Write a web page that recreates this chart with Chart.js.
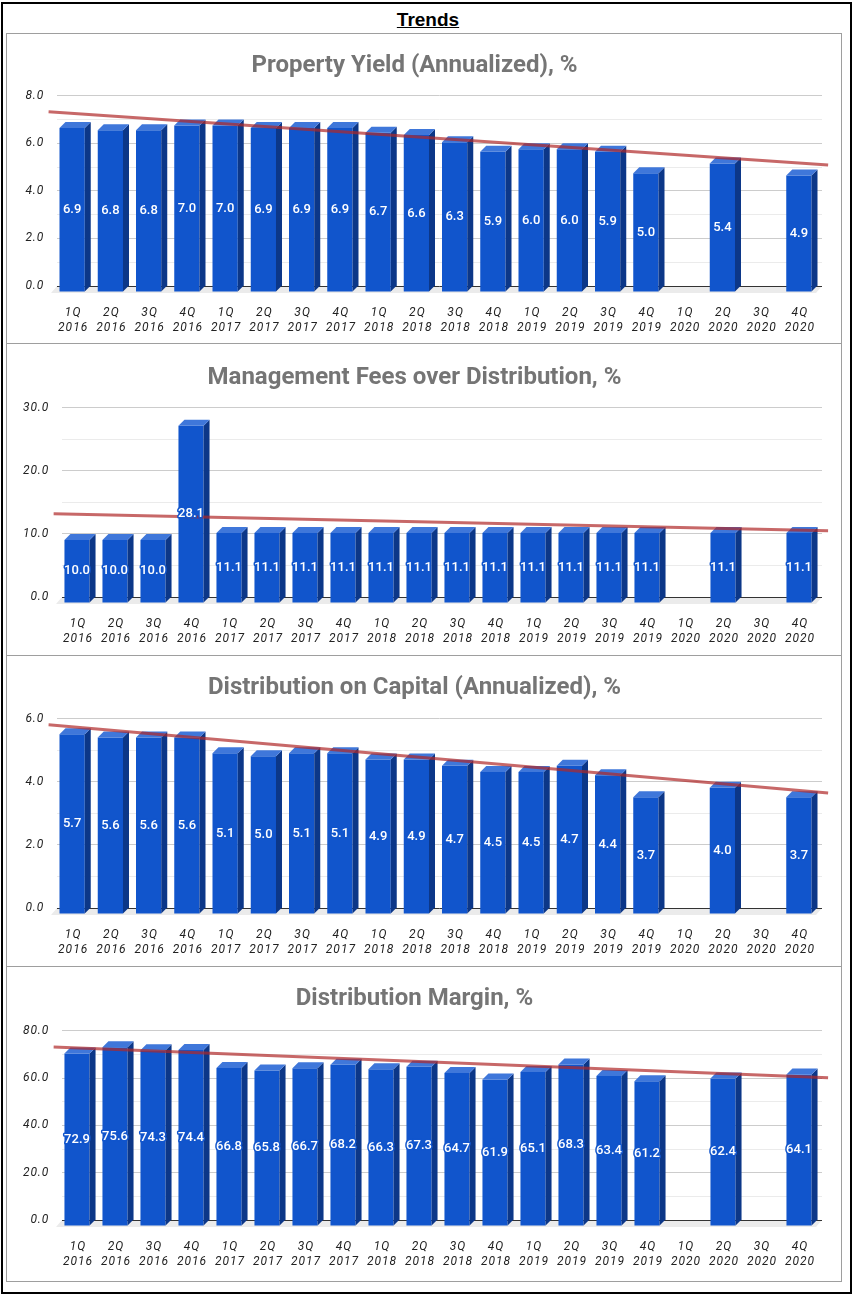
<!DOCTYPE html>
<html lang="en">
<head>
<meta charset="UTF-8">
<title>Trends</title>
<script src="https://cdn.jsdelivr.net/npm/chart.js"></script>
<style>
  body { margin: 0; background: #fff; font-family: Roboto, "Liberation Sans", sans-serif; }
  .frame { position: absolute; left: 1px; top: 2px; width: 851px; height: 1292px; border: 2px solid #000; box-sizing: border-box; }
  .heading { position: absolute; left: 0; width: 856px; top: 9px; text-align: center; font: bold 19px "Liberation Sans", Arial, sans-serif; }
  .heading span { text-decoration: underline; }
  .panels { position: absolute; left: 6px; top: 33px; width: 836px; height: 1249px; border: 1px solid #9e9e9e; box-sizing: border-box; }
  .panel { position: relative; width: 834px; }
  .panel + .panel { border-top: 1px solid #9e9e9e; }
</style>
</head>
<body>
<div class="frame"></div>
<div class="heading"><span>Trends</span></div>
<div class="panels">
  <div class="panel" style="height:309px"><canvas id="c1"></canvas></div>
  <div class="panel" style="height:311px"><canvas id="c2"></canvas></div>
  <div class="panel" style="height:310px"><canvas id="c3"></canvas></div>
  <div class="panel" style="height:314px"><canvas id="c4"></canvas></div>
</div>
<script>
// quarters on the x axis
const quarters = [
  ['1Q', '2016'], ['2Q', '2016'], ['3Q', '2016'], ['4Q', '2016'],
  ['1Q', '2017'], ['2Q', '2017'], ['3Q', '2017'], ['4Q', '2017'],
  ['1Q', '2018'], ['2Q', '2018'], ['3Q', '2018'], ['4Q', '2018'],
  ['1Q', '2019'], ['2Q', '2019'], ['3Q', '2019'], ['4Q', '2019'],
  ['1Q', '2020'], ['2Q', '2020'], ['3Q', '2020'], ['4Q', '2020']
];

// series (null = no value reported)
const propertyYield = [6.9, 6.8, 6.8, 7.0, 7.0, 6.9, 6.9, 6.9, 6.7, 6.6, 6.3, 5.9, 6.0, 6.0, 5.9, 5.0, null, 5.4, null, 4.9];
const mgmtFees = [10.0, 10.0, 10.0, 28.1, 11.1, 11.1, 11.1, 11.1, 11.1, 11.1, 11.1, 11.1, 11.1, 11.1, 11.1, 11.1, null, 11.1, null, 11.1];
const distribution = [5.7, 5.6, 5.6, 5.6, 5.1, 5.0, 5.1, 5.1, 4.9, 4.9, 4.7, 4.5, 4.5, 4.7, 4.4, 3.7, null, 4.0, null, 3.7];
const distMargin = [72.9, 75.6, 74.3, 74.4, 66.8, 65.8, 66.7, 68.2, 66.3, 67.3, 64.7, 61.9, 65.1, 68.3, 63.4, 61.2, null, 62.4, null, 64.1];

// trend lines: value at left end and right end
const trendX = [-0.72, 19.66];
const yieldTrend = [7.33, 5.09];
const feesTrend = [13.2, 10.5];
const distTrend = [5.81, 3.65];
const marginTrend = [73.2, 60.2];

// y axes: [max, major step, minor step]
const yieldAxis = [8, 2, 1];
const feesAxis = [30, 10, 5];
const distAxis = [6, 2, 1];
const marginAxis = [80, 20, 10];

const BLUE = '#1155cc';
const DX = 6, DY = 6, SHIFT = 4;   // depth of the fake 3D, front face shift left

// fake 3D bars like the Google Sheets chart, plus trend line and value labels
const bar3d = {
  id: 'bar3d',
  beforeDatasetsDraw(chart) {
    const ctx = chart.ctx;
    const a = chart.chartArea;
    const y0 = chart.scales.y.getPixelForValue(0);
    ctx.save();
    ctx.fillStyle = '#ebebeb';
    ctx.beginPath();
    ctx.moveTo(a.left, y0);
    ctx.lineTo(a.right, y0);
    ctx.lineTo(a.right - DX, y0 + DY + 1);
    ctx.lineTo(a.left - DX, y0 + DY + 1);
    ctx.closePath();
    ctx.fill();
    ctx.strokeStyle = '#333';
    ctx.lineWidth = 1;
    ctx.beginPath();
    ctx.moveTo(a.left, Math.round(y0) + 0.5);
    ctx.lineTo(a.right, Math.round(y0) + 0.5);
    ctx.stroke();
    ctx.restore();
  },
  beforeDatasetDraw(chart) {
    chart.ctx.save();
    chart.ctx.translate(-SHIFT, DY);
  },
  afterDatasetDraw(chart, args) {
    const ctx = chart.ctx;
    ctx.restore();
    const data = chart.data.datasets[args.index].data;
    args.meta.data.forEach((el, i) => {
      if (data[i] == null) return;
      const p = el.getProps(['x', 'y', 'base', 'width'], true);
      const l = p.x - p.width / 2 - SHIFT, r = p.x + p.width / 2 - SHIFT;
      const t = p.y + DY, b = p.base + DY;
      ctx.save();
      ctx.fillStyle = '#0c3788';
      ctx.beginPath();
      ctx.moveTo(r, t); ctx.lineTo(r + DX, t - DY); ctx.lineTo(r + DX, b - DY); ctx.lineTo(r, b);
      ctx.closePath(); ctx.fill();
      ctx.fillStyle = '#3f77da';
      ctx.beginPath();
      ctx.moveTo(l, t); ctx.lineTo(l + DX, t - DY); ctx.lineTo(r + DX, t - DY); ctx.lineTo(r, t);
      ctx.closePath(); ctx.fill();
      ctx.restore();
    });
  },
  afterDatasetsDraw(chart, args, opts) {
    // linear trend line through the category scale
    const ctx = chart.ctx;
    const xs = chart.scales.x, ys = chart.scales.y;
    ctx.save();
    ctx.strokeStyle = 'rgba(175, 40, 40, 0.7)';
    ctx.lineWidth = 3;
    ctx.beginPath();
    ctx.moveTo(xs.getPixelForValue(trendX[0]), ys.getPixelForValue(opts.trend[0]));
    ctx.lineTo(xs.getPixelForValue(trendX[1]), ys.getPixelForValue(opts.trend[1]));
    ctx.stroke();
    ctx.restore();
  },
  afterDraw(chart) {
    // value labels on the front face of each bar
    const ctx = chart.ctx;
    const meta = chart.getDatasetMeta(0);
    const data = chart.data.datasets[0].data;
    ctx.save();
    ctx.letterSpacing = '0px';
    ctx.font = '500 13px Roboto';
    ctx.textAlign = 'center';
    ctx.textBaseline = 'middle';
    ctx.lineJoin = 'round';
    meta.data.forEach((el, i) => {
      if (data[i] == null) return;
      const p = el.getProps(['x', 'y', 'base'], true);
      const cx = p.x - SHIFT, cy = (p.y + p.base) / 2 + DY;
      const txt = data[i].toFixed(1);
      ctx.strokeStyle = BLUE;
      ctx.lineWidth = 3;
      ctx.strokeText(txt, cx, cy);
      ctx.fillStyle = '#fff';
      ctx.fillText(txt, cx, cy);
    });
    ctx.restore();
  }
};

// tick labels are a little letter-spaced in the original
function spaced(scale, spacing) {
  if (scale._spaced) return;
  scale._spaced = true;
  const orig = scale.drawLabels;
  scale.drawLabels = function (area) {
    this.ctx.save();
    this.ctx.letterSpacing = spacing;
    orig.call(this, area);
    this.ctx.restore();
  };
}

function isMajor(v, step) {
  return Math.abs(v / step - Math.round(v / step)) < 1e-6;
}

function makeChart(id, title, values, trend, axis, lay) {
  const [max, major, minor] = axis;
  return new Chart(document.getElementById(id), {
    type: 'bar',
    data: {
      labels: quarters,
      datasets: [{
        data: values,
        backgroundColor: BLUE,
        borderWidth: 0,
        categoryPercentage: 1,
        barPercentage: 0.66,
        clip: false
      }]
    },
    options: {
      responsive: true,
      maintainAspectRatio: false,
      animation: false,
      events: [],
      layout: { padding: { left: 0, right: 19, top: 0, bottom: 0 } },
      plugins: {
        legend: { display: false },
        tooltip: { enabled: false },
        bar3d: { trend: trend },
        title: {
          display: true,
          text: title,
          color: '#757575',
          font: { family: 'Roboto', size: 24, weight: 'bold', lineHeight: 1.2 },
          padding: { top: lay.titleTop, bottom: lay.titleBottom }
        }
      },
      scales: {
        x: {
          grid: { display: false },
          border: { display: false },
          ticks: {
            autoSkip: false,
            maxRotation: 0,
            padding: 11,
            labelOffset: -3,
            color: '#222',
            font: { family: 'Roboto', size: 12, style: 'italic', lineHeight: 1.25 }
          },
          afterFit(s) { s.height = lay.xHeight; spaced(s, '1px'); }
        },
        y: {
          min: 0,
          max: max,
          border: { display: false },
          grid: {
            drawTicks: false,
            color: c => isMajor(c.tick.value, major) ? '#cccccc' : '#ebebeb'
          },
          ticks: {
            stepSize: minor,
            padding: 13,
            color: '#222',
            font: { family: 'Roboto', size: 12, style: 'italic' },
            callback: v => isMajor(v, major) ? v.toFixed(1) : ''
          },
          afterFit(s) { s.width = lay.yWidth; spaced(s, '0.8px'); }
        }
      }
    },
    plugins: [bar3d]
  });
}

makeChart('c1', 'Property Yield (Annualized), %', propertyYield, yieldTrend, yieldAxis,
  { titleTop: 18, titleBottom: 15, xHeight: 57, yWidth: 50 });
makeChart('c2', 'Management Fees over Distribution, %', mgmtFees, feesTrend, feesAxis,
  { titleTop: 20, titleBottom: 15, xHeight: 58, yWidth: 55 });
makeChart('c3', 'Distribution on Capital (Annualized), %', distribution, distTrend, distAxis,
  { titleTop: 18, titleBottom: 16, xHeight: 58, yWidth: 50 });
makeChart('c4', 'Distribution Margin, %', distMargin, marginTrend, marginAxis,
  { titleTop: 18, titleBottom: 17, xHeight: 61, yWidth: 55 });
</script>
</body>
</html>
